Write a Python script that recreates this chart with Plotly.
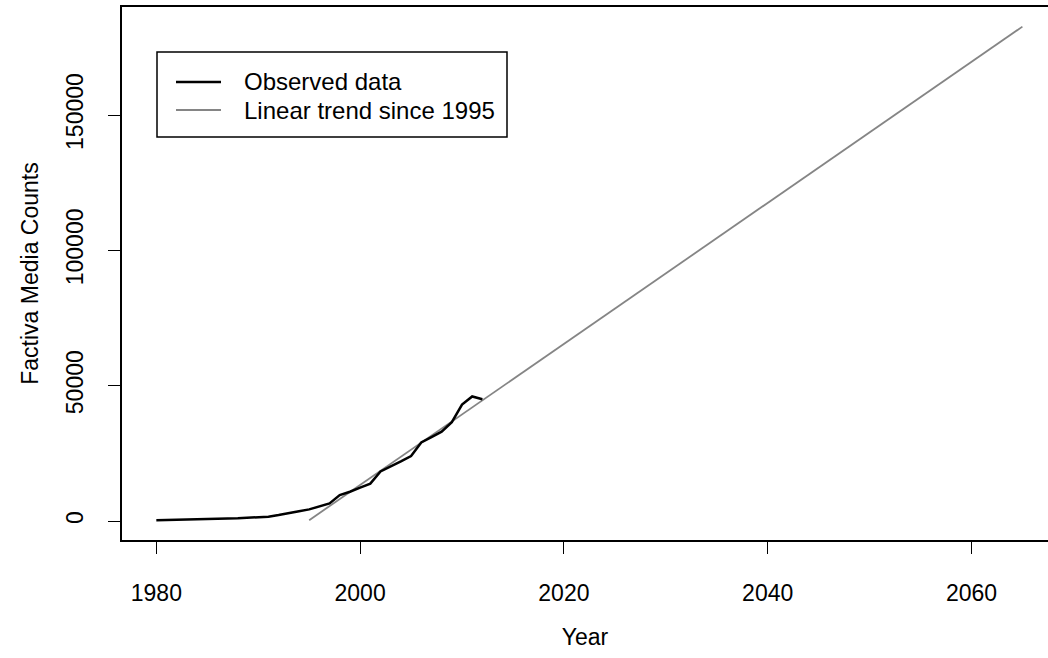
import plotly.graph_objects as go

years = list(range(1980, 2013))
counts = [300, 350, 400, 500, 600, 700, 800, 900, 1000, 1200,
          1400, 1600, 2200, 2800, 3600, 4300, 5300, 6500, 9600, 10800,
          12300, 13800, 18300, 20000, 22000, 24000, 29000, 31000, 33000, 36500,
          43000, 46000, 45000]

# Linear trend since 1995 (end points)
trend_years = [1995, 2065]
trend_values = [300, 182650]

x_ticks = [1980, 2000, 2020, 2040, 2060]
y_ticks = [0, 50000, 100000, 150000]
legend_labels = ["Observed data", "Linear trend since 1995"]

FONT = "Liberation Sans, Arial, Helvetica, sans-serif"
FS = 23
W, H = 1048, 658
L, R, T, B = 122, 0, 7, 118

fig = go.Figure()
fig.add_trace(go.Scatter(x=trend_years, y=trend_values, mode="lines",
                         line=dict(color="#858585", width=1.8),
                         name=legend_labels[1], showlegend=False))
fig.add_trace(go.Scatter(x=years, y=counts, mode="lines",
                         line=dict(color="#000000", width=2.5),
                         name=legend_labels[0], showlegend=False))

pw = W - L - R
ph = H - T - B
def px(x):
    return (x - L) / pw
def py(y):
    return (H - B - y) / ph

# legend drawn as box, sample lines and text
shapes = [dict(type="rect", xref="paper", yref="paper",
               x0=px(157), x1=px(507), y0=py(137), y1=py(52),
               line=dict(color="black", width=1.5), fillcolor="white", layer="above")]
legend_colors = ["#000000", "#858585"]
legend_widths = [2.5, 1.8]
row_y = [82, 110]
annotations = []
for lab, col, lw, ry in zip(legend_labels, legend_colors, legend_widths, row_y):
    shapes.append(dict(type="line", xref="paper", yref="paper",
                       x0=px(176), x1=px(221), y0=py(ry), y1=py(ry),
                       line=dict(color=col, width=lw), layer="above"))
    annotations.append(dict(text=lab, xref="paper", yref="paper",
                            x=px(242), y=py(ry), xanchor="left", yanchor="middle",
                            showarrow=False, font=dict(family=FONT, size=24, color="black")))

fig.update_layout(
    width=W, height=H,
    margin=dict(l=L, r=R, t=T, b=B, pad=0),
    paper_bgcolor="white", plot_bgcolor="white",
    font=dict(family=FONT, size=FS, color="black"),
    shapes=shapes, annotations=annotations,
    xaxis=dict(range=[1976.63, 2067.51], tickvals=x_ticks, ticktext=[str(v) for v in x_ticks],
               showgrid=False, zeroline=False, showline=True, linecolor="black", linewidth=1.5,
               mirror=True, ticks="outside", ticklen=12, tickwidth=1.3, tickcolor="black",
               ticklabelstandoff=20,
               title=dict(text="Year", standoff=24, font=dict(family=FONT, size=FS))),
    yaxis=dict(range=[-7020, 189900], tickvals=y_ticks, ticktext=[str(v) for v in y_ticks],
               tickangle=-90, showgrid=False, zeroline=False, showline=True, linecolor="black",
               linewidth=1.5, mirror=False, ticks="outside", ticklen=12, tickwidth=1.3,
               tickcolor="black", ticklabelstandoff=16,
               title=dict(text="Factiva Media Counts", standoff=17, font=dict(family=FONT, size=FS))),
)

fig.write_html("out.html")
